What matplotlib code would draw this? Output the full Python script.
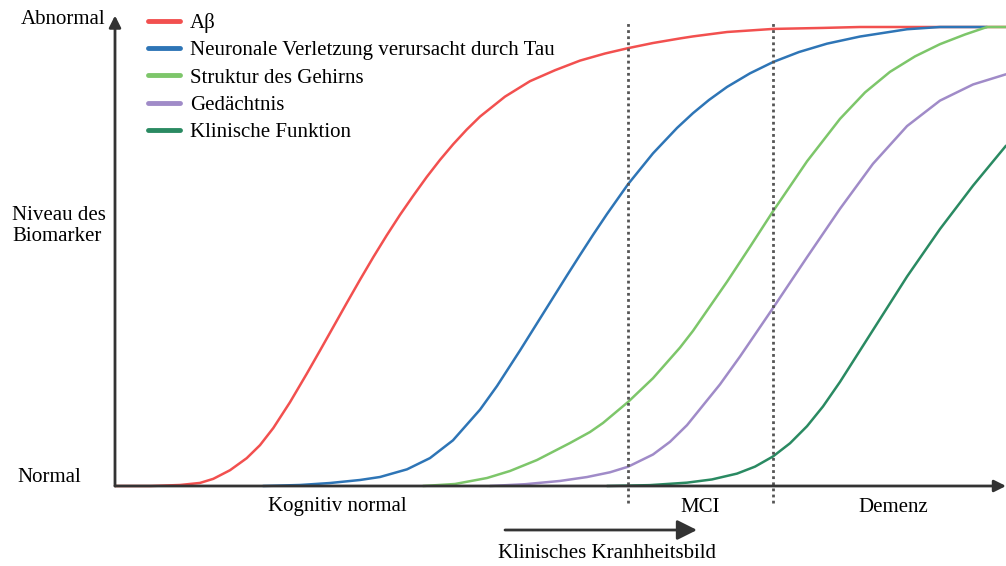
import matplotlib
matplotlib.use("Agg")
import matplotlib.pyplot as plt
from matplotlib.patches import FancyArrowPatch

plt.rcParams['font.family'] = ['Liberation Serif', 'DejaVu Serif']

# Zeit (0 = Beginn, 100 = rechter Rand) und Niveau des Biomarkers (0 = normal, 100 = abnormal)
abeta_t = [0, 4.0, 7.30, 9.54, 11.03, 12.91, 14.78, 16.27, 17.77, 19.64, 21.52, 23.01, 24.50, 26.00,
           27.50, 28.99, 30.49, 31.99, 33.48, 34.98, 36.48, 37.97, 39.47, 40.97, 43.77, 46.58,
           49.38, 52.19, 54.99, 57.58, 60.38, 63.41, 64.87, 68.69, 73.85, 79.46, 83.61, 88.10, 100]
abeta_y = [0, 0, 0.22, 0.67, 1.56, 3.44, 6.06, 8.89, 12.64, 18.25, 24.45, 29.52, 34.66, 39.84,
           44.94, 49.86, 54.59, 59.09, 63.26, 67.31, 71.06, 74.49, 77.64, 80.49, 84.83, 88.20,
           90.58, 92.68, 94.22, 95.39, 96.51, 97.51, 97.95, 98.91, 99.58, 99.80, 100, 100, 100]

tau_t = [16.61, 20.76, 24.13, 27.50, 29.74, 32.77, 35.35, 37.93, 40.97, 42.87, 45.45, 47.36, 49.16,
         50.73, 52.19, 53.65, 55.22, 57.58, 60.38, 63.08, 64.87, 66.67, 68.69, 71.27, 73.85, 76.77,
         79.91, 83.61, 85.07, 88.89, 92.59, 97.87]
tau_y = [0, 0.22, 0.65, 1.31, 1.96, 3.63, 6.08, 9.95, 16.64, 21.77, 29.51, 35.43, 41.01,
         45.88, 50.33, 54.71, 59.26, 65.75, 72.47, 78.01, 81.23, 84.11, 86.94, 89.91, 92.36, 94.55,
         96.37, 97.92, 98.36, 99.51, 100, 100]

struktur_t = [34.57, 38.16, 41.75, 44.33, 47.36, 51.07, 53.31, 54.77, 57.58, 60.38, 63.41, 64.87,
              68.69, 71.27, 73.85, 77.67, 81.37, 84.18, 86.98, 89.79, 92.59, 95.40, 97.87, 100]
struktur_y = [0, 0.44, 1.74, 3.27, 5.66, 9.37, 11.76, 13.73, 18.30, 23.48, 30.15, 33.80,
              44.50, 52.11, 59.85, 70.74, 79.99, 85.75, 90.23, 93.60, 96.26, 98.37, 100, 100]

gedaechtnis_t = [42.09, 46.02, 49.94, 52.97, 55.56, 57.58, 60.38, 62.29, 64.20, 67.90, 70.15,
                 73.85, 77.67, 81.37, 85.07, 88.89, 92.59, 96.30, 100]
gedaechtnis_y = [0, 0.39, 1.10, 1.95, 2.99, 4.20, 6.86, 9.63, 13.26, 22.14, 28.22,
                 38.77, 49.85, 60.40, 70.20, 78.41, 83.96, 87.48, 89.70]

klinik_t = [55.22, 60.04, 64.20, 67.00, 69.81, 71.83, 73.85, 75.76, 77.67, 79.46, 81.37,
            85.07, 88.89, 92.59, 96.30, 100]
klinik_y = [0, 0.19, 0.73, 1.43, 2.70, 4.22, 6.44, 9.31, 13.03, 17.33, 22.68,
            33.97, 45.62, 55.98, 65.44, 74.14]

labels = ["Aβ", "Neuronale Verletzung verursacht durch Tau", "Struktur des Gehirns",
          "Gedächtnis", "Klinische Funktion"]
colors = ["#f2504f", "#2e75b6", "#7dc66a", "#a08bc8", "#2a8a62"]

stage_lines = [57.58, 73.85]
stages = ["Kognitiv normal", "MCI", "Demenz"]

W, H = 1006, 566
fig = plt.figure(figsize=(W / 100, H / 100), dpi=100)
ax = fig.add_axes([115 / W, (H - 486) / H, (W - 115) / W, (486 - 27) / H])
ax.set_xlim(0, 100)
ax.set_ylim(0, 100)
ax.axis('off')

series = [(abeta_t, abeta_y), (tau_t, tau_y), (struktur_t, struktur_y),
          (gedaechtnis_t, gedaechtnis_y), (klinik_t, klinik_y)]
for (t, y), lab, c in zip(series, labels, colors):
    ax.plot(t, y, color=c, lw=1.8, label=lab, clip_on=False,
            solid_capstyle='round', solid_joinstyle='round')

# Stadiengrenzen
for s in stage_lines:
    ax.plot([s, s], [-3.7, 101], color="#555555", lw=2, ls=(0, (1, 1.2)), clip_on=False)

# Achsen mit Pfeilen
arrow = dict(arrowstyle="-|>,head_width=0.35,head_length=0.7", color="#333333",
             lw=2, shrinkA=0, shrinkB=0)
ax.annotate("", xy=(0, 102.5), xytext=(0, 0), arrowprops=arrow, annotation_clip=False)
ax.annotate("", xy=(100, 0), xytext=(0, 0), arrowprops=arrow, annotation_clip=False)

fs = 15
fig.text(105 / W, 1 - 20 / H, "Abnormal", ha='right', va='center', fontsize=fs)
fig.text(12 / W, 1 - 226 / H, "Niveau des\nBiomarker", ha='left', va='center', fontsize=fs,
         linespacing=1.2)
fig.text(17 / W, 1 - 478 / H, "Normal", ha='left', va='center', fontsize=fs)

fig.text(337 / W, 1 - 507 / H, stages[0], ha='center', va='center', fontsize=fs)
fig.text(700 / W, 1 - 507 / H, stages[1], ha='center', va='center', fontsize=fs)
fig.text(893 / W, 1 - 507 / H, stages[2], ha='center', va='center', fontsize=fs)

fig.patches.append(FancyArrowPatch(
    (505 / W, 1 - 530 / H), (697 / W, 1 - 530 / H), transform=fig.transFigure,
    arrowstyle="-|>,head_width=0.4,head_length=0.8", mutation_scale=15,
    color="#333333", lw=2, shrinkA=0, shrinkB=0))
fig.text(607 / W, 1 - 554 / H, "Klinisches Kranhheitsbild", ha='center', va='center', fontsize=fs)

leg = ax.legend(loc='upper left', bbox_to_anchor=(148 / W, 1 - 13 / H),
                bbox_transform=fig.transFigure, frameon=False, fontsize=fs,
                handlelength=1.55, handletextpad=0.48, labelspacing=0.37,
                borderpad=0, borderaxespad=0)
for h in leg.get_lines():
    h.set_linewidth(3.5)

fig.savefig("out.png", dpi=100)
